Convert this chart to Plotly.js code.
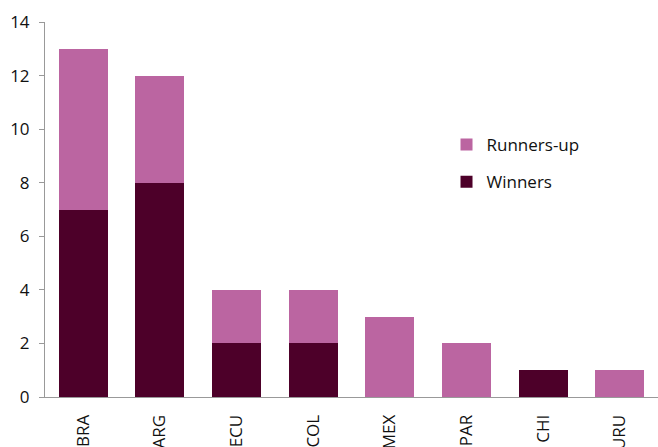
<!DOCTYPE html>
<html><head><meta charset="utf-8">
<script src="https://cdn.plot.ly/plotly-3.0.1.min.js"></script>
<style>html,body{margin:0;padding:0;background:#fff;}#chart{width:658px;height:447px;}</style>
</head><body><div id="chart"></div>
<script>
const categories = ["BRA","ARG","ECU","COL","MEX","PAR","CHI","URU"];
const winners = [7,8,2,2,0,0,1,0];
const runnersUp = [6,4,2,2,3,2,0,1];
const yTicks = [0,2,4,6,8,10,12,14];

const traces = [
  {type:"bar", name:"Winners", x:categories, y:winners, marker:{color:"#4d0029"}, legendgroup:"w", legendrank:2},
  {type:"bar", name:"Runners-up", x:categories, y:runnersUp, marker:{color:"#bb65a1"}, legendgroup:"r", legendrank:1}
];
const layout = {
  width:658, height:447,
  margin:{l:45, r:0, t:22, b:50, pad:0},
  barmode:"stack", bargap:0.36,
  paper_bgcolor:"#fff", plot_bgcolor:"#fff",
  font:{family:"Open Sans, DejaVu Sans, sans-serif", size:17, color:"#111"},
  showlegend:true,
  legend:{x:0.655, y:0.72, xanchor:"left", yanchor:"top", traceorder:"grouped", tracegroupgap:12, itemwidth:30, font:{size:17}},
  xaxis:{type:"category", showgrid:false, showline:true, linecolor:"#999", linewidth:1, ticks:"", tickangle:-90, tickfont:{size:17}, fixedrange:true, zeroline:false, ticklabelstandoff:10},
  yaxis:{range:[0,14], tickvals:yTicks, showgrid:false, showline:true, linecolor:"#999", linewidth:1, ticks:"outside", ticklen:5, tickcolor:"#999", zeroline:false, ticklabelstandoff:6, tickfont:{size:17}}
};
Plotly.newPlot("chart", traces, layout, {displayModeBar:false, staticPlot:true});
</script></body></html>
